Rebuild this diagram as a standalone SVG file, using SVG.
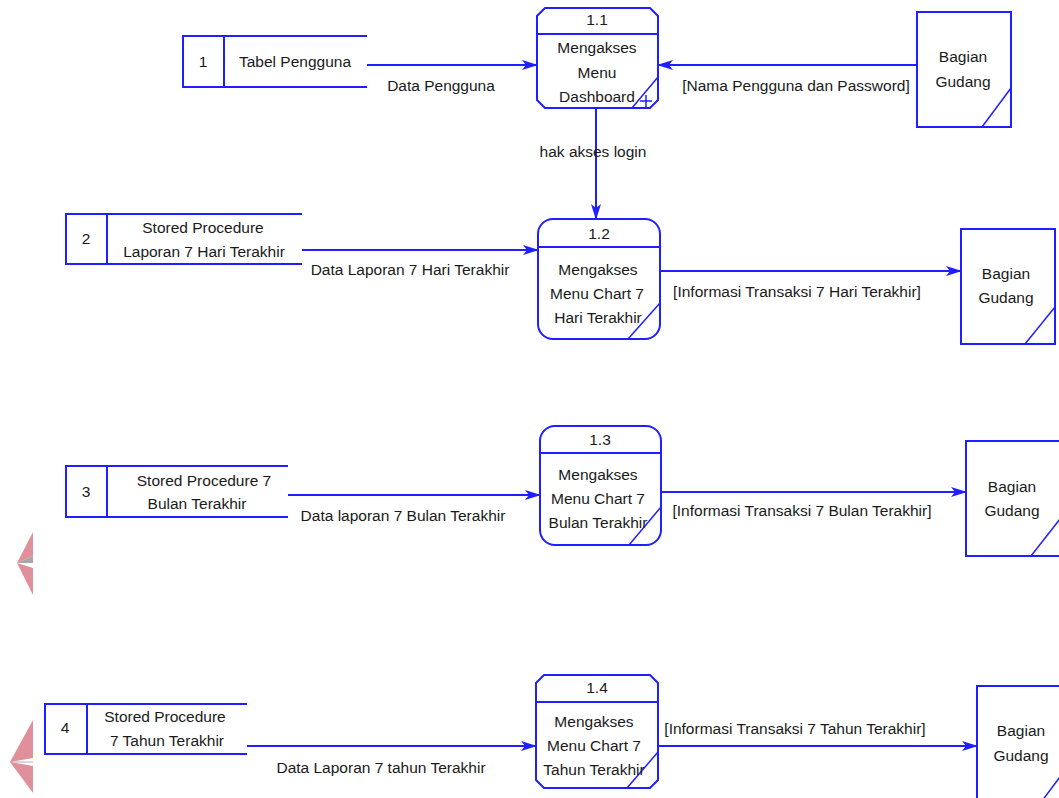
<svg xmlns="http://www.w3.org/2000/svg" width="1059" height="798" viewBox="0 0 1059 798">
  <style>
    .shape { fill: #ffffff; stroke: #1f1fff; stroke-width: 2; }
    .ln { fill: none; stroke: #1f1fff; stroke-width: 2; }
    .thin { fill: none; stroke: #1f1fff; stroke-width: 1.5; }
    text { font-family: "Liberation Sans", Arial, sans-serif; font-size: 15.5px; fill: #1a1a1a; text-anchor: middle; }
  </style>
  <defs>
    <marker id="arrow" viewBox="0 0 16 12" refX="15" refY="6" markerWidth="16" markerHeight="12" markerUnits="userSpaceOnUse" orient="auto">
      <path d="M0,1 L4,6 L0,11 L16,6 Z" fill="#1f1fff"/>
    </marker>
  </defs>

  <rect x="0" y="0" width="1059" height="798" fill="#ffffff"/>

  <!-- logo fragments along the left edge -->
  <g id="logo-marks">
    <polygon points="17,563 33,532 33,556" fill="#e0909a"/>
    <polygon points="17,563 33,556 33,563" fill="#a8a8a8"/>
    <polygon points="17,563 33,568 33,595" fill="#e0909a"/>
    <polygon points="10,762 33,720 33,758" fill="#e0909a"/>
    <line x1="10" y1="762" x2="33" y2="762" stroke="#b0b0b0" stroke-width="1"/>
    <polygon points="10,762 33,766 33,793" fill="#e0909a"/>
  </g>

  <!-- connectors -->
  <g id="connectors">
    <line class="ln" x1="367" y1="65" x2="537" y2="65" marker-end="url(#arrow)"/>
    <line class="ln" x1="917" y1="65" x2="658" y2="65" marker-end="url(#arrow)"/>
    <line class="ln" x1="596" y1="108" x2="596" y2="219" marker-end="url(#arrow)"/>
    <line class="ln" x1="302" y1="250" x2="538" y2="250" marker-end="url(#arrow)"/>
    <line class="ln" x1="660" y1="271" x2="961" y2="271" marker-end="url(#arrow)"/>
    <line class="ln" x1="288" y1="495" x2="540" y2="495" marker-end="url(#arrow)"/>
    <line class="ln" x1="661" y1="492" x2="966" y2="492" marker-end="url(#arrow)"/>
    <line class="ln" x1="247" y1="746" x2="536" y2="746" marker-end="url(#arrow)"/>
    <line class="ln" x1="658" y1="746" x2="977" y2="746" marker-end="url(#arrow)"/>

    <text x="441" y="91">Data Pengguna</text>
    <text x="796" y="91">[Nama Pengguna dan Password]</text>
    <text x="593" y="157">hak akses login</text>
    <text x="410" y="275">Data Laporan 7 Hari Terakhir</text>
    <text x="797" y="297">[Informasi Transaksi 7 Hari Terakhir]</text>
    <text x="403" y="521">Data laporan 7 Bulan Terakhir</text>
    <text x="802" y="516">[Informasi Transaksi 7 Bulan Terakhir]</text>
    <text x="381" y="773">Data Laporan 7 tahun Terakhir</text>
    <text x="795" y="734">[Informasi Transaksi 7 Tahun Terakhir]</text>
  </g>

  <!-- data stores -->
  <g id="store-1">
    <path class="ln" d="M367,36 H183 V87 H367 M224,36 V87"/>
    <text x="203" y="67">1</text>
    <text x="295" y="67">Tabel Pengguna</text>
  </g>
  <g id="store-2">
    <path class="ln" d="M302,214 H66 V264 H302 M107,214 V264"/>
    <text x="86" y="244">2</text>
    <text x="203" y="233">Stored Procedure</text>
    <text x="204" y="257">Laporan 7 Hari Terakhir</text>
  </g>
  <g id="store-3">
    <path class="ln" d="M288,466 H66 V517 H288 M107,466 V517"/>
    <text x="86" y="497">3</text>
    <text x="204" y="486">Stored Procedure 7</text>
    <text x="197" y="509">Bulan Terakhir</text>
  </g>
  <g id="store-4">
    <path class="ln" d="M247,704 H45 V754 H247 M87,704 V754"/>
    <text x="65" y="733">4</text>
    <text x="165" y="722">Stored Procedure</text>
    <text x="167" y="746">7 Tahun Terakhir</text>
  </g>

  <!-- processes -->
  <g id="process-1-1">
    <path class="shape" d="M545,8 H650 L658,16 V100 L650,108 H545 L537,100 V16 Z"/>
    <line class="ln" x1="537" y1="34" x2="658" y2="34"/>
    <line class="thin" x1="658" y1="77" x2="632" y2="108"/>
    <path class="thin" d="M640,101 H652 M646,95 V107"/>
    <text x="597" y="25">1.1</text>
    <text x="597" y="53">Mengakses</text>
    <text x="597" y="78">Menu</text>
    <text x="597" y="102">Dashboard</text>
  </g>
  <g id="process-1-2">
    <rect class="shape" x="538" y="219" width="122" height="120" rx="15" ry="15"/>
    <line class="ln" x1="538" y1="247" x2="660" y2="247"/>
    <line class="thin" x1="660" y1="303" x2="628" y2="339"/>
    <text x="599" y="239">1.2</text>
    <text x="598" y="275">Mengakses</text>
    <text x="597" y="299">Menu Chart 7</text>
    <text x="598" y="323">Hari Terakhir</text>
  </g>
  <g id="process-1-3">
    <rect class="shape" x="540" y="426" width="121" height="119" rx="15" ry="15"/>
    <line class="ln" x1="540" y1="453" x2="661" y2="453"/>
    <line class="thin" x1="661" y1="507" x2="629" y2="545"/>
    <text x="600" y="445">1.3</text>
    <text x="598" y="480">Mengakses</text>
    <text x="598" y="504">Menu Chart 7</text>
    <text x="598" y="528">Bulan Terakhir</text>
  </g>
  <g id="process-1-4">
    <path class="shape" d="M544,675 H650 L658,683 V780 L650,788 H544 L536,780 V683 Z"/>
    <line class="ln" x1="536" y1="702" x2="658" y2="702"/>
    <line class="thin" x1="658" y1="752" x2="627" y2="788"/>
    <text x="597" y="693">1.4</text>
    <text x="594" y="727">Mengakses</text>
    <text x="594" y="751">Menu Chart 7</text>
    <text x="594" y="775">Tahun Terakhir</text>
  </g>

  <!-- external entities -->
  <g id="entity-1">
    <rect class="shape" x="917" y="12" width="94" height="115"/>
    <line class="thin" x1="1011" y1="88" x2="982" y2="127"/>
    <text x="963" y="62">Bagian</text>
    <text x="963" y="87">Gudang</text>
  </g>
  <g id="entity-2">
    <rect class="shape" x="961" y="229" width="94" height="115"/>
    <line class="thin" x1="1055" y1="307" x2="1025" y2="344"/>
    <text x="1006" y="279">Bagian</text>
    <text x="1006" y="303">Gudang</text>
  </g>
  <g id="entity-3">
    <rect class="shape" x="966" y="441" width="94" height="115"/>
    <line class="thin" x1="1060" y1="519" x2="1031" y2="556"/>
    <text x="1012" y="492">Bagian</text>
    <text x="1012" y="516">Gudang</text>
  </g>
  <g id="entity-4">
    <rect class="shape" x="977" y="686" width="94" height="115"/>
    <line class="thin" x1="1071" y1="762" x2="1042" y2="801"/>
    <text x="1021" y="736">Bagian</text>
    <text x="1021" y="761">Gudang</text>
  </g>
</svg>
